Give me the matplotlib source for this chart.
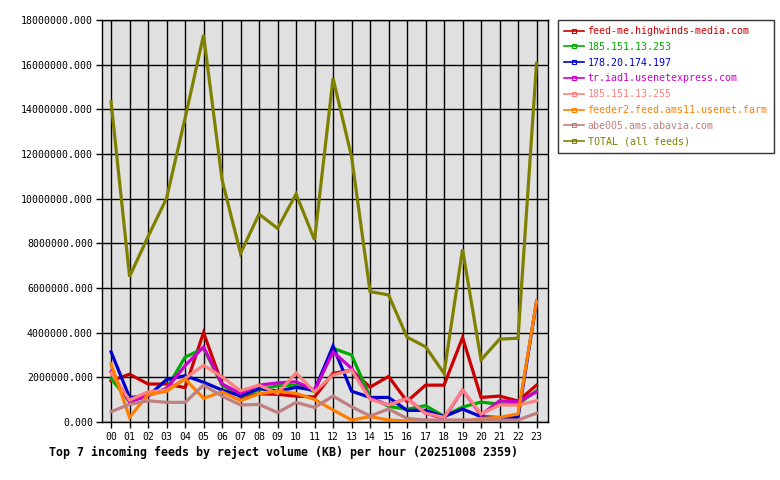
import matplotlib
matplotlib.use("Agg")
import matplotlib.pyplot as plt
from matplotlib.lines import Line2D
from matplotlib.ticker import FuncFormatter, MultipleLocator

hours = ["00", "01", "02", "03", "04", "05", "06", "07", "08", "09", "10", "11",
         "12", "13", "14", "15", "16", "17", "18", "19", "20", "21", "22", "23"]

feed_me = [1.84, 2.14, 1.70, 1.70, 1.54, 4.00, 1.70, 1.12, 1.26, 1.24, 1.16, 1.12,
           2.18, 2.32, 1.56, 2.04, 0.92, 1.65, 1.65, 3.78, 1.10, 1.16, 0.94, 1.65]
ip_253 = [1.95, 0.90, 1.20, 1.50, 2.90, 3.30, 1.65, 1.15, 1.45, 1.62, 1.65, 1.36,
          3.30, 3.00, 1.13, 0.70, 0.57, 0.73, 0.26, 0.67, 0.89, 0.80, 0.80, 1.40]
ip_197 = [3.14, 1.10, 1.16, 1.90, 2.07, 1.78, 1.43, 1.17, 1.50, 1.38, 1.55, 1.43,
          3.40, 1.38, 1.10, 1.10, 0.52, 0.52, 0.24, 0.58, 0.24, 0.20, 0.20, 5.40]
iad1 = [2.25, 0.90, 1.18, 1.50, 2.52, 3.36, 1.70, 1.28, 1.65, 1.75, 1.80, 1.43,
        3.14, 2.40, 1.06, 0.76, 1.06, 0.39, 0.16, 1.43, 0.31, 0.95, 0.90, 1.35]
ip_255 = [2.20, 0.98, 1.35, 1.43, 1.95, 2.54, 2.02, 1.40, 1.65, 1.28, 2.20, 1.35,
          2.10, 2.32, 1.01, 0.76, 1.06, 0.39, 0.21, 1.43, 0.36, 0.76, 0.76, 0.95]
ams11 = [2.60, 0.21, 1.23, 1.37, 1.93, 1.06, 1.35, 0.95, 1.27, 1.38, 1.28, 1.01,
         0.54, 0.09, 0.24, 0.09, 0.04, 0.02, 0.02, 0.02, 0.16, 0.21, 0.36, 5.40]
abavia = [0.46, 0.79, 0.95, 0.88, 0.88, 1.65, 1.16, 0.76, 0.79, 0.42, 0.88, 0.65,
          1.16, 0.68, 0.27, 0.58, 0.16, 0.09, 0.09, 0.09, 0.09, 0.09, 0.09, 0.39]
total = [14.34, 6.51, 8.30, 10.02, 13.60, 17.33, 10.84, 7.55, 9.31, 8.67, 10.21, 8.15,
         15.39, 11.88, 5.84, 5.69, 3.80, 3.37, 2.18, 7.73, 2.78, 3.71, 3.75, 16.06]

names = ["feed-me.highwinds-media.com", "185.151.13.253", "178.20.174.197",
         "tr.iad1.usenetexpress.com", "185.151.13.255", "feeder2.feed.ams11.usenet.farm",
         "abe005.ams.abavia.com", "TOTAL (all feeds)"]
series = [feed_me, ip_253, ip_197, iad1, ip_255, ams11, abavia, total]
colors = ["#CC0000", "#00AA00", "#0000CC", "#CC00CC", "#FF8080", "#FF8000",
          "#C08080", "#808000"]

title = "Top 7 incoming feeds by reject volume (KB) per hour (20251008 2359)"

plt.rcParams['font.family'] = ['DejaVu Sans Mono']

fig = plt.figure(figsize=(7.8, 4.8), dpi=100)
fig.patch.set_facecolor("white")
ax = fig.add_axes([102 / 780, 1 - 422 / 480, 446 / 780, 402 / 480])
ax.set_facecolor("#E0E0E0")

x = list(range(len(hours)))
for vals, c in zip(series, colors):
    ax.plot(x, [v * 1e6 for v in vals], color=c, linewidth=2.3,
            solid_joinstyle="miter", zorder=3)

ax.set_xlim(-0.49, 23.62)
ax.set_ylim(0, 18e6)
ax.yaxis.set_major_locator(MultipleLocator(2e6))
ax.yaxis.set_major_formatter(FuncFormatter(lambda v, p: "%.3f" % v))
ax.set_xticks(x)
ax.set_xticklabels(hours)
ax.grid(True, color="black", linewidth=1.0, linestyle="-", zorder=1)
ax.set_axisbelow(True)
for s in ax.spines.values():
    s.set_color("black")
    s.set_linewidth(1.0)
ax.tick_params(axis="both", direction="out", length=4.5, width=1, color="black",
               labelsize=7.1, pad=2)
ax.tick_params(axis="x", pad=3)

fig.text(49 / 780, 1 - 452 / 480, title, fontsize=8.35, fontweight="bold",
         ha="left", va="center")

handles = [Line2D([0], [0], color=c, linewidth=1.2, marker="s", markersize=2.5,
                  markerfacecolor="none", markeredgecolor=c, markeredgewidth=0.8)
           for c in colors]
leg = fig.legend(handles, names, loc="upper left",
                 bbox_to_anchor=(558 / 780, 1 - 20 / 480), borderaxespad=0,
                 frameon=True, fancybox=False, fontsize=7.2, handlelength=2.0,
                 handletextpad=0.35, labelspacing=0.58, borderpad=0.6,
                 numpoints=1)
leg.get_frame().set_edgecolor("black")
leg.get_frame().set_linewidth(1.0)
for t, c in zip(leg.get_texts(), colors):
    t.set_color(c)

fig.savefig("out.png", dpi=100)
